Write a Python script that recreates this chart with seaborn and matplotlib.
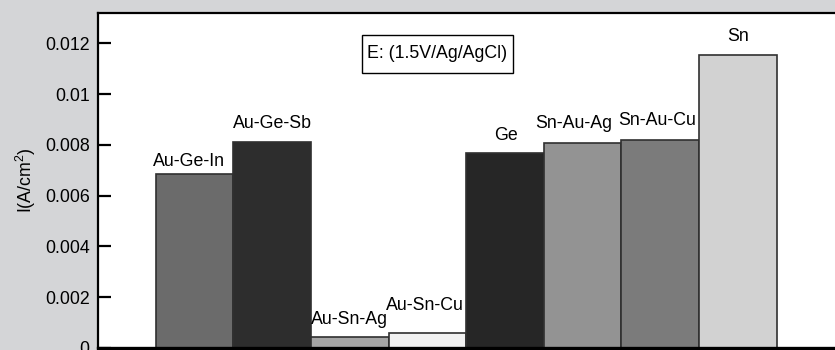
import matplotlib
matplotlib.use("Agg")
import matplotlib.pyplot as plt
from matplotlib.patches import Rectangle
import seaborn as sns
import pandas as pd

# Current density of each alloy at E = 1.5 V vs Ag/AgCl
alloys = ["Au-Ge-In", "Au-Ge-Sb", "Au-Sn-Ag", "Au-Sn-Cu",
          "Ge", "Sn-Au-Ag", "Sn-Au-Cu", "Sn"]
current = [0.00685, 0.00812, 0.00044, 0.00058,
           0.00770, 0.00807, 0.00818, 0.01156]

yticks = [0, 0.002, 0.004, 0.006, 0.008, 0.01, 0.012]
ytick_labels = ["0", "0.002", "0.004", "0.006", "0.008", "0.01", "0.012"]

bar_colors = ["#6b6b6b", "#2d2d2d", "#a6a6a6", "#f2f2f2",
              "#262626", "#939393", "#7b7b7b", "#d2d2d2"]
# label nudges (points) relative to the top centre of each bar
label_dx = [-4, 0, 0, -2, 1, -6, -2, 0]
label_dy = [3, 7, 6, 14, 6, 8, 8, 7]

sns.set_theme(style="white")
plt.rcParams["font.family"] = ["Liberation Sans", "DejaVu Sans"]
plt.rcParams["mathtext.fontset"] = "custom"
plt.rcParams["mathtext.rm"] = "Liberation Sans"
plt.rcParams["mathtext.it"] = "Liberation Sans"
plt.rcParams["text.color"] = "black"
plt.rcParams["axes.labelcolor"] = "black"

FS = 12.8
W, H = 835, 350

df = pd.DataFrame({"alloy": alloys, "I": current})

fig = plt.figure(figsize=(W / 100, H / 100), dpi=100)
fig.patch.set_facecolor("#d4d5d7")
ax = fig.add_axes([98 / W, 2 / H, (W - 98) / W, 335 / H])
ax.set_facecolor("white")

sns.barplot(data=df, x="alloy", y="I", hue="alloy",
            palette=dict(zip(alloys, bar_colors)), width=1.0,
            edgecolor="#303030", linewidth=1.2, legend=False, ax=ax)

bar_w_px = 77.6
left = -0.5 - (155.7 - 98) / bar_w_px
ax.set_xlim(left, left + (W - 98) / bar_w_px)
ax.set_ylim(0, 0.0132)

for i, (name, val) in enumerate(zip(alloys, current)):
    ax.annotate(name, xy=(i, val), xytext=(label_dx[i], label_dy[i]),
                textcoords="offset points", ha="center", va="bottom",
                fontsize=FS, color="black")

# potential note in a framed box
box_x0, box_x1, box_top, box_bot = 362, 513, 35, 73
fig.patches.append(Rectangle((box_x0 / W, 1 - box_bot / H),
                             (box_x1 - box_x0) / W, (box_bot - box_top) / H,
                             transform=fig.transFigure, facecolor="white",
                             edgecolor="black", linewidth=1.0, zorder=5))
fig.text((box_x0 + box_x1) / 2 / W, 1 - (box_top + box_bot) / 2 / H,
         "E: (1.5V/Ag/AgCl)", ha="center", va="center", fontsize=FS, zorder=6)

ax.set_yticks(yticks)
ax.set_yticklabels(ytick_labels)
ax.set_xticks([])
ax.set_xlabel("")
ax.set_ylabel(r"I(A/cm$^2$)", fontsize=FS, labelpad=5)
ax.tick_params(axis="y", direction="in", length=9, width=1.6,
               pad=6, labelsize=FS, colors="black", left=True)

for side in ["left", "top", "bottom"]:
    ax.spines[side].set_visible(True)
    ax.spines[side].set_color("black")
    ax.spines[side].set_linewidth(1.6)
ax.spines["bottom"].set_linewidth(2.4)
ax.spines["right"].set_visible(False)

fig.savefig("out.png", dpi=100, facecolor=fig.get_facecolor())
